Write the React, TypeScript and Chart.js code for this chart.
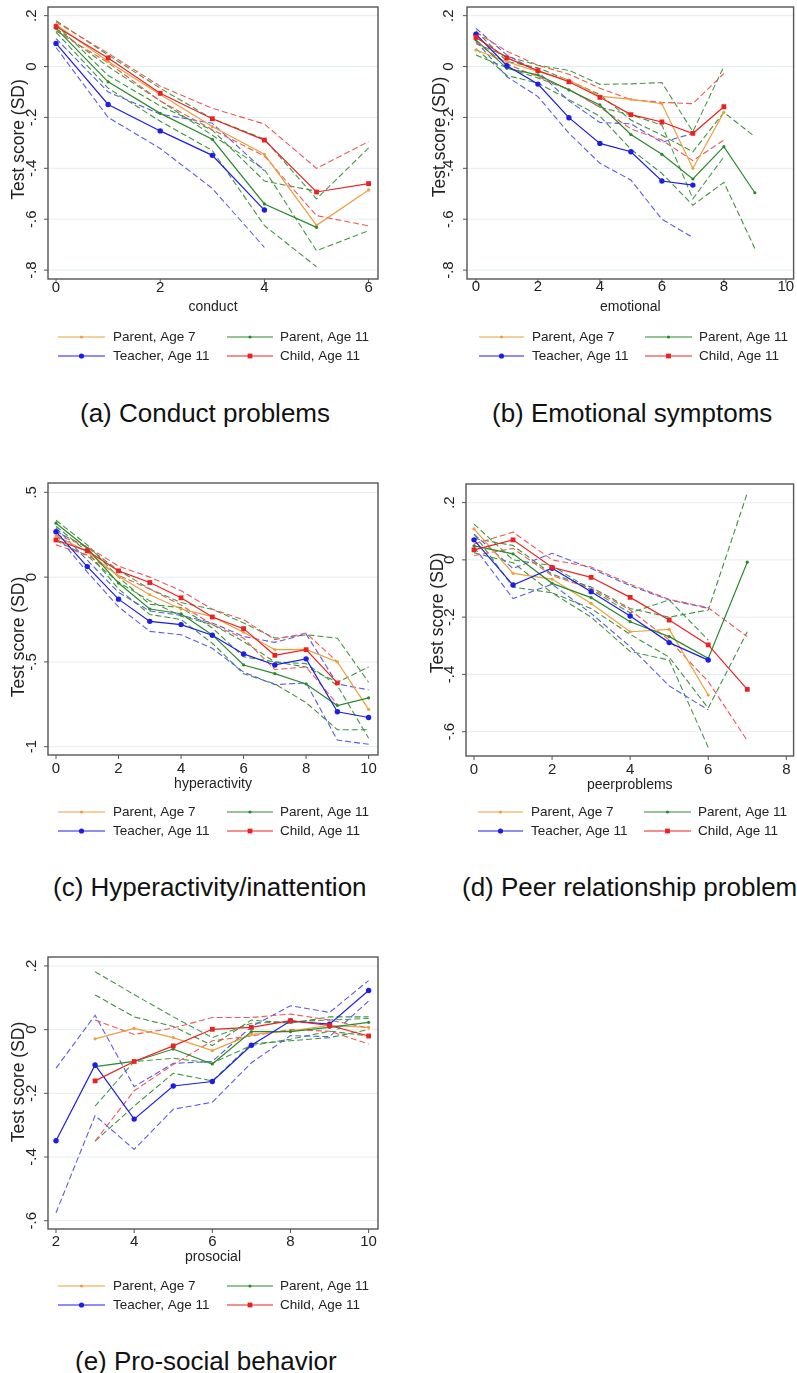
import React, { useEffect, useRef } from "react";
import { Chart, registerables } from "chart.js";

Chart.register(...registerables);

// ---------------- DATA ----------------
const legendLabels = ["Parent, Age 7", "Parent, Age 11", "Teacher, Age 11", "Child, Age 11"];

// (a) conduct
const conductX = [0, 1, 2, 3, 4, 5, 6];
const conductParent7 = [0.165, 0.02, -0.11, -0.236, -0.345, -0.624, -0.485];
const conductParent7Hi = [0.18, 0.045, -0.085, -0.205, -0.285, -0.52, -0.32];
const conductParent7Lo = [0.15, 0.0, -0.135, -0.27, -0.405, -0.724, -0.645];
const conductParent11 = [0.15, -0.06, -0.184, -0.286, -0.54, -0.632];
const conductParent11Hi = [0.165, -0.035, -0.155, -0.25, -0.45, -0.49];
const conductParent11Lo = [0.135, -0.085, -0.215, -0.33, -0.625, -0.787];
const conductTeacher = [0.091, -0.149, -0.253, -0.349, -0.564];
const conductTeacherHi = [0.11, -0.1, -0.187, -0.223, -0.41];
const conductTeacherLo = [0.075, -0.2, -0.322, -0.479, -0.711];
const conductChild = [0.157, 0.034, -0.105, -0.205, -0.289, -0.493, -0.46];
const conductChildHi = [0.175, 0.052, -0.077, -0.164, -0.226, -0.4, -0.295];
const conductChildLo = [0.14, 0.015, -0.135, -0.248, -0.352, -0.586, -0.626];

// (b) emotional
const emotionalX = [0, 1, 2, 3, 4, 5, 6, 7, 8, 9];
const emotionalParent7 = [0.065, 0.019, -0.02, -0.053, -0.116, -0.129, -0.146, -0.4, -0.18];
const emotionalParent7Hi = [0.09, 0.04, 0.005, -0.015, -0.07, -0.068, -0.063, -0.256, 0.0];
const emotionalParent7Lo = [0.045, -0.005, -0.045, -0.09, -0.16, -0.19, -0.23, -0.52, -0.355];
const emotionalParent11 = [0.105, -0.007, -0.033, -0.092, -0.151, -0.267, -0.345, -0.442, -0.315, -0.496];
const emotionalParent11Hi = [0.14, 0.02, -0.005, -0.055, -0.11, -0.21, -0.27, -0.335, -0.18, -0.276];
const emotionalParent11Lo = [0.07, -0.035, -0.065, -0.13, -0.195, -0.325, -0.42, -0.545, -0.455, -0.715];
const emotionalTeacher = [0.127, 0.003, -0.069, -0.201, -0.302, -0.335, -0.45, -0.466];
const emotionalTeacherHi = [0.15, 0.045, -0.02, -0.135, -0.22, -0.225, -0.298, -0.263];
const emotionalTeacherLo = [0.1, -0.04, -0.118, -0.262, -0.38, -0.446, -0.6, -0.672];
const emotionalChild = [0.115, 0.034, -0.016, -0.06, -0.121, -0.189, -0.218, -0.263, -0.158];
const emotionalChildHi = [0.135, 0.06, 0.005, -0.03, -0.085, -0.13, -0.141, -0.146, -0.027];
const emotionalChildLo = [0.095, 0.01, -0.04, -0.09, -0.16, -0.245, -0.289, -0.37, -0.289];

// (c) hyperactivity
const hyperX = [0, 1, 2, 3, 4, 5, 6, 7, 8, 9, 10];
const hyperParent7 = [0.243, 0.15, 0.005, -0.104, -0.188, -0.233, -0.325, -0.428, -0.426, -0.5, -0.78];
const hyperParent7Hi = [0.27, 0.175, 0.04, -0.07, -0.15, -0.19, -0.27, -0.36, -0.34, -0.36, -0.62];
const hyperParent7Lo = [0.215, 0.125, -0.03, -0.14, -0.23, -0.28, -0.38, -0.5, -0.51, -0.64, -0.95];
const hyperParent11 = [0.318, 0.17, -0.035, -0.188, -0.216, -0.341, -0.518, -0.569, -0.63, -0.757, -0.712];
const hyperParent11Hi = [0.335, 0.19, 0.0, -0.16, -0.18, -0.3, -0.47, -0.5, -0.53, -0.62, -0.53];
const hyperParent11Lo = [0.3, 0.15, -0.07, -0.22, -0.25, -0.39, -0.57, -0.63, -0.74, -0.9, -0.9];
const hyperTeacher = [0.268, 0.062, -0.13, -0.261, -0.28, -0.343, -0.453, -0.518, -0.482, -0.794, -0.828];
const hyperTeacherHi = [0.29, 0.1, -0.09, -0.2, -0.225, -0.27, -0.35, -0.385, -0.335, -0.63, -0.665];
const hyperTeacherLo = [0.25, 0.03, -0.175, -0.32, -0.34, -0.42, -0.56, -0.634, -0.624, -0.961, -0.986];
const hyperChild = [0.219, 0.155, 0.037, -0.032, -0.122, -0.235, -0.304, -0.461, -0.428, -0.624];
const hyperChildHi = [0.25, 0.18, 0.065, 0.0, -0.08, -0.19, -0.251, -0.369, -0.33, -0.5];
const hyperChildLo = [0.19, 0.13, 0.01, -0.07, -0.165, -0.28, -0.36, -0.545, -0.53, -0.75];

// (d) peer problems
const peerX = [0, 1, 2, 3, 4, 5, 6, 7];
const peerParent7 = [0.108, -0.047, -0.067, -0.152, -0.251, -0.243, -0.472];
const peerParent7Hi = [0.125, 0.0, -0.02, -0.105, -0.185, -0.14, -0.28];
const peerParent7Lo = [0.09, -0.095, -0.115, -0.2, -0.32, -0.35, -0.655];
const peerParent11 = [0.049, 0.021, -0.082, -0.132, -0.216, -0.268, -0.344, -0.008];
const peerParent11Hi = [0.075, 0.05, -0.05, -0.095, -0.17, -0.2, -0.175, 0.233];
const peerParent11Lo = [0.025, -0.01, -0.115, -0.17, -0.26, -0.34, -0.518, -0.251];
const peerTeacher = [0.07, -0.088, -0.029, -0.111, -0.196, -0.289, -0.35];
const peerTeacherHi = [0.09, -0.03, 0.023, -0.03, -0.09, -0.14, -0.169];
const peerTeacherLo = [0.045, -0.135, -0.085, -0.187, -0.303, -0.44, -0.524];
const peerChild = [0.035, 0.07, -0.026, -0.061, -0.131, -0.21, -0.297, -0.452];
const peerChildHi = [0.055, 0.097, 0.0, -0.025, -0.085, -0.138, -0.167, -0.268];
const peerChildLo = [0.015, 0.04, -0.055, -0.1, -0.175, -0.28, -0.425, -0.631];

// (e) prosocial
const prosocialX = [2, 3, 4, 5, 6, 7, 8, 9, 10];
const prosocialParent7 = [null, -0.029, 0.004, -0.025, -0.066, -0.015, -0.004, 0.013, 0.007];
const prosocialParent7Hi = [null, 0.182, 0.11, 0.04, -0.025, 0.02, 0.025, 0.03, 0.035];
const prosocialParent7Lo = [null, -0.24, -0.1, -0.09, -0.105, -0.05, -0.03, -0.005, -0.02];
const prosocialParent11 = [null, -0.116, -0.1, -0.061, -0.108, -0.006, -0.006, 0.007, 0.023];
const prosocialParent11Hi = [null, 0.109, 0.04, 0.01, -0.05, 0.03, 0.02, 0.04, 0.04];
const prosocialParent11Lo = [null, -0.35, -0.24, -0.137, -0.161, -0.045, -0.035, -0.025, 0.0];
const prosocialTeacher = [-0.349, -0.111, -0.281, -0.177, -0.163, -0.049, 0.027, 0.017, 0.123];
const prosocialTeacherHi = [-0.121, 0.045, -0.179, -0.106, -0.1, 0.009, 0.075, 0.054, 0.154];
const prosocialTeacherLo = [-0.575, -0.27, -0.376, -0.25, -0.228, -0.104, -0.019, -0.022, 0.09];
const prosocialChild = [null, -0.161, -0.1, -0.051, 0.001, 0.007, 0.028, 0.013, -0.02];
const prosocialChildHi = [null, 0.03, -0.015, 0.005, 0.038, 0.038, 0.049, 0.03, 0.005];
const prosocialChildLo = [null, -0.35, -0.192, -0.11, -0.035, -0.02, 0.0, -0.005, -0.045];

// tick values / labels
const yTicksSmall = [0.2, 0, -0.2, -0.4, -0.6, -0.8];
const yLabelsSmall = [".2", "0", "-.2", "-.4", "-.6", "-.8"];
const yTicksHyper = [0.5, 0, -0.5, -1];
const yLabelsHyper = [".5", "0", "-.5", "-1"];
const yTicksShort = [0.2, 0, -0.2, -0.4, -0.6];
const yLabelsShort = [".2", "0", "-.2", "-.4", "-.6"];
const xTicksConduct = [0, 2, 4, 6];
const xTicksTen = [0, 2, 4, 6, 8, 10];
const xTicksPeer = [0, 2, 4, 6, 8];
const xTicksProsocial = [2, 4, 6, 8, 10];

// ---------------- STYLE ----------------
const FONT = '"Liberation Sans", Arial, Helvetica, sans-serif';
const COLORS = {
  orange: "#ee9f3e",
  green: "#2b8a2b",
  blue: "#1d1de8",
  red: "#ec2222",
  greenDash: "#3f923f",
  greenDash7: "#469a46",
  blueDash: "#5c5ce8",
  redDash: "#ee5858",
};

type Vals = (number | null)[];

function pts(xs: number[], ys: Vals) {
  const out: { x: number; y: number }[] = [];
  ys.forEach((v, i) => {
    if (v !== null && v !== undefined) out.push({ x: xs[i], y: v });
  });
  return out;
}

interface PanelDef {
  left: number;
  top: number;
  w: number;
  h: number;
  frame: [number, number, number, number];
  xr: [number, number];
  yr: [number, number];
  xTicks: number[];
  yTicks: number[];
  yLabels: string[];
  xTitle: string;
  yTickX: number;
  yTitleX: number;
  yTitleY: number;
  xTickY: number;
  xTitleY: number;
  rows: [number, number];
  cols: [number, number, number, number, number, number];
  xs: number[];
  series: { p7: Vals[]; p11: Vals[]; t: Vals[]; c: Vals[] };
  caption: string;
  capLeft: number;
  capY: number;
}

const colsLeft: [number, number, number, number, number, number] = [58, 105, 113, 227, 273, 280];

const panels: PanelDef[] = [
  {
    left: 0, top: 0, w: 398, h: 370, frame: [48, 7, 378, 279],
    xr: [-0.154, 6.18], yr: [-0.835, 0.234],
    xTicks: xTicksConduct, yTicks: yTicksSmall, yLabels: yLabelsSmall, xTitle: "conduct",
    yTickX: 31.7, yTitleX: 19, yTitleY: 139.5, xTickY: 287.5, xTitleY: 307,
    rows: [337, 356], cols: colsLeft, xs: conductX,
    series: {
      p7: [conductParent7, conductParent7Hi, conductParent7Lo],
      p11: [conductParent11, conductParent11Hi, conductParent11Lo],
      t: [conductTeacher, conductTeacherHi, conductTeacherLo],
      c: [conductChild, conductChildHi, conductChildLo],
    },
    caption: "(a) Conduct problems", capLeft: 80, capY: 413,
  },
  {
    left: 398, top: 0, w: 399, h: 370, frame: [467, 7, 796, 279],
    xr: [-0.288, 10.25], yr: [-0.835, 0.234],
    xTicks: xTicksTen, yTicks: yTicksSmall, yLabels: yLabelsSmall, xTitle: "emotional",
    yTickX: 449, yTitleX: 440, yTitleY: 137, xTickY: 287, xTitleY: 307,
    rows: [337, 356], cols: [479, 524, 532, 645, 692, 699], xs: emotionalX,
    series: {
      p7: [emotionalParent7, emotionalParent7Hi, emotionalParent7Lo],
      p11: [emotionalParent11, emotionalParent11Hi, emotionalParent11Lo],
      t: [emotionalTeacher, emotionalTeacherHi, emotionalTeacherLo],
      c: [emotionalChild, emotionalChildHi, emotionalChildLo],
    },
    caption: "(b) Emotional symptoms", capLeft: 492, capY: 413,
  },
  {
    left: 0, top: 460, w: 398, h: 385, frame: [48, 483, 378, 755],
    xr: [-0.256, 10.3], yr: [-1.049, 0.555],
    xTicks: xTicksTen, yTicks: yTicksHyper, yLabels: yLabelsHyper, xTitle: "hyperactivity",
    yTickX: 31.7, yTitleX: 19, yTitleY: 637, xTickY: 769, xTitleY: 784.5,
    rows: [812, 831], cols: colsLeft, xs: hyperX,
    series: {
      p7: [hyperParent7, hyperParent7Hi, hyperParent7Lo],
      p11: [hyperParent11, hyperParent11Hi, hyperParent11Lo],
      t: [hyperTeacher, hyperTeacherHi, hyperTeacherLo],
      c: [hyperChild, hyperChildHi, hyperChildLo],
    },
    caption: "(c) Hyperactivity/inattention", capLeft: 53, capY: 887,
  },
  {
    left: 398, top: 460, w: 399, h: 385, frame: [466, 484, 794, 756],
    xr: [-0.205, 8.187], yr: [-0.685, 0.265],
    xTicks: xTicksPeer, yTicks: yTicksShort, yLabels: yLabelsShort, xTitle: "peerproblems",
    yTickX: 450, yTitleX: 438, yTitleY: 613, xTickY: 770, xTitleY: 785,
    rows: [812, 831], cols: [478, 523, 531, 644, 691, 698], xs: peerX,
    series: {
      p7: [peerParent7, peerParent7Hi, peerParent7Lo],
      p11: [peerParent11, peerParent11Hi, peerParent11Lo],
      t: [peerTeacher, peerTeacherHi, peerTeacherLo],
      c: [peerChild, peerChildHi, peerChildLo],
    },
    caption: "(d) Peer relationship problem", capLeft: 462, capY: 887,
  },
  {
    left: 0, top: 940, w: 398, h: 380, frame: [48, 957, 378, 1229],
    xr: [1.795, 10.24], yr: [-0.626, 0.228],
    xTicks: xTicksProsocial, yTicks: yTicksShort, yLabels: yLabelsShort, xTitle: "prosocial",
    yTickX: 31.7, yTitleX: 19, yTitleY: 1082, xTickY: 1241.5, xTitleY: 1257,
    rows: [1286, 1305], cols: colsLeft, xs: prosocialX,
    series: {
      p7: [prosocialParent7, prosocialParent7Hi, prosocialParent7Lo],
      p11: [prosocialParent11, prosocialParent11Hi, prosocialParent11Lo],
      t: [prosocialTeacher, prosocialTeacherHi, prosocialTeacherLo],
      c: [prosocialChild, prosocialChildHi, prosocialChildLo],
    },
    caption: "(e) Pro-social behavior", capLeft: 75, capY: 1361,
  },
];

function drawMarker(ctx: CanvasRenderingContext2D, kind: string, x: number, y: number) {
  ctx.save();
  if (kind === "p7") {
    ctx.fillStyle = COLORS.orange;
    ctx.beginPath(); ctx.arc(x, y, 1.6, 0, Math.PI * 2); ctx.fill();
  } else if (kind === "p11") {
    ctx.fillStyle = COLORS.green;
    ctx.beginPath(); ctx.arc(x, y, 1.6, 0, Math.PI * 2); ctx.fill();
  } else if (kind === "t") {
    ctx.fillStyle = COLORS.blue;
    ctx.beginPath(); ctx.arc(x, y, 2.6, 0, Math.PI * 2); ctx.fill();
  } else {
    ctx.fillStyle = COLORS.red;
    ctx.fillRect(x - 2.4, y - 2.4, 4.8, 4.8);
  }
  ctx.restore();
}

function Panel({ def }: { def: PanelDef }) {
  const ref = useRef<HTMLCanvasElement | null>(null);
  useEffect(() => {
    if (!ref.current) return;
    const d = def;
    const ox = d.left;
    const oy = d.top;
    const s = d.series;
    const mean = (vals: Vals, color: string, radius: number, style: string) => ({
      data: pts(d.xs, vals),
      borderColor: color,
      backgroundColor: color,
      borderWidth: 1.2,
      pointRadius: radius,
      pointHoverRadius: radius,
      pointStyle: style,
      pointBackgroundColor: color,
      pointBorderWidth: 0,
      fill: false,
      tension: 0,
    });
    const ci = (vals: Vals, color: string) => ({
      data: pts(d.xs, vals),
      borderColor: color,
      borderWidth: 1.1,
      borderDash: [6, 3],
      pointRadius: 0,
      fill: false,
      tension: 0,
    });
    const datasets: any[] = [
      mean(s.c[0], COLORS.red, 3.4, "rect"),
      mean(s.t[0], COLORS.blue, 2.7, "circle"),
      mean(s.p11[0], COLORS.green, 1.6, "circle"),
      mean(s.p7[0], COLORS.orange, 1.6, "circle"),
      ci(s.c[1], COLORS.redDash), ci(s.c[2], COLORS.redDash),
      ci(s.t[1], COLORS.blueDash), ci(s.t[2], COLORS.blueDash),
      ci(s.p11[1], COLORS.greenDash), ci(s.p11[2], COLORS.greenDash),
      ci(s.p7[1], COLORS.greenDash7), ci(s.p7[2], COLORS.greenDash7),
    ];

    const decor = {
      id: "panelDecor",
      beforeDatasetsDraw(chart: any) {
        const { ctx, chartArea: ca, scales } = chart;
        ctx.save();
        ctx.strokeStyle = "#e3eef0";
        ctx.lineWidth = 1;
        d.yTicks.forEach((v) => {
          const py = scales.y.getPixelForValue(v);
          ctx.beginPath(); ctx.moveTo(ca.left, py); ctx.lineTo(ca.right, py); ctx.stroke();
        });
        ctx.restore();
      },
      afterDatasetsDraw(chart: any) {
        const { ctx, chartArea: ca, scales } = chart;
        ctx.save();
        // frame
        ctx.strokeStyle = "#555";
        ctx.lineWidth = 1.4;
        ctx.strokeRect(ca.left, ca.top, ca.right - ca.left, ca.bottom - ca.top);
        // y ticks
        ctx.lineWidth = 1;
        ctx.strokeStyle = "#555";
        ctx.fillStyle = "#222";
        ctx.font = `15px ${FONT}`;
        d.yTicks.forEach((v, i) => {
          const py = scales.y.getPixelForValue(v);
          ctx.beginPath(); ctx.moveTo(ca.left, py); ctx.lineTo(ca.left - 4, py); ctx.stroke();
          ctx.save();
          ctx.translate(d.yTickX - ox, py);
          ctx.rotate(-Math.PI / 2);
          ctx.textAlign = "center";
          ctx.textBaseline = "middle";
          ctx.fillText(d.yLabels[i], 0, 0);
          ctx.restore();
        });
        // x ticks
        d.xTicks.forEach((v) => {
          const px = scales.x.getPixelForValue(v);
          ctx.beginPath(); ctx.moveTo(px, ca.bottom); ctx.lineTo(px, ca.bottom + 4); ctx.stroke();
          ctx.textAlign = "center";
          ctx.textBaseline = "middle";
          ctx.fillText(String(v), px, d.xTickY - oy);
        });
        // titles
        ctx.font = `14px ${FONT}`;
        ctx.textAlign = "center";
        ctx.textBaseline = "middle";
        ctx.fillText(d.xTitle, (ca.left + ca.right) / 2, d.xTitleY - oy);
        ctx.save();
        ctx.font = `17.5px ${FONT}`;
        ctx.translate(d.yTitleX - ox, d.yTitleY - oy);
        ctx.rotate(-Math.PI / 2);
        ctx.fillText("Test score (SD)", 0, 0);
        ctx.restore();
        // legend
        const items = [
          { k: "p7", col: 0, row: 0, color: COLORS.orange },
          { k: "p11", col: 1, row: 0, color: COLORS.green },
          { k: "t", col: 0, row: 1, color: COLORS.blue },
          { k: "c", col: 1, row: 1, color: COLORS.red },
        ];
        const labelIdx: Record<string, number> = { p7: 0, p11: 1, t: 2, c: 3 };
        ctx.font = `13.5px ${FONT}`;
        ctx.textAlign = "left";
        ctx.textBaseline = "middle";
        items.forEach((it) => {
          const x0 = (it.col === 0 ? d.cols[0] : d.cols[3]) - ox;
          const x1 = (it.col === 0 ? d.cols[1] : d.cols[4]) - ox;
          const tx = (it.col === 0 ? d.cols[2] : d.cols[5]) - ox;
          const y = d.rows[it.row] - oy;
          ctx.strokeStyle = it.color;
          ctx.lineWidth = 1.1;
          ctx.beginPath(); ctx.moveTo(x0, y); ctx.lineTo(x1, y); ctx.stroke();
          drawMarker(ctx, it.k, (x0 + x1) / 2, y);
          ctx.fillStyle = "#222";
          ctx.fillText(legendLabels[labelIdx[it.k]], tx, y);
        });
        ctx.restore();
      },
    };

    const chart = new Chart(ref.current, {
      type: "line",
      data: { datasets },
      options: {
        responsive: false,
        animation: false,
        events: [],
        layout: {
          padding: {
            left: d.frame[0] - ox,
            top: d.frame[1] - oy,
            right: ox + d.w - d.frame[2],
            bottom: oy + d.h - d.frame[3],
          },
        },
        plugins: { legend: { display: false }, tooltip: { enabled: false } },
        scales: {
          x: { type: "linear", min: d.xr[0], max: d.xr[1], display: false },
          y: { type: "linear", min: d.yr[0], max: d.yr[1], display: false },
        },
      } as any,
      plugins: [decor as any],
    });
    return () => chart.destroy();
  }, [def]);

  return (
    <>
      <canvas
        ref={ref}
        width={def.w}
        height={def.h}
        style={{ position: "absolute", left: def.left, top: def.top, width: def.w, height: def.h }}
      />
      <div
        style={{
          position: "absolute",
          left: def.capLeft,
          top: def.capY - 15,
          height: 30,
          lineHeight: "30px",
          fontSize: 26,
          fontFamily: FONT,
          color: "#111",
          whiteSpace: "nowrap",
        }}
      >
        {def.caption}
      </div>
    </>
  );
}

export default function App() {
  return (
    <div
      style={{
        position: "absolute",
        left: 0,
        top: 0,
        width: 797,
        height: 1373,
        overflow: "hidden",
        background: "#fff",
      }}
    >
      {panels.map((p, i) => (
        <Panel key={i} def={p} />
      ))}
    </div>
  );
}
